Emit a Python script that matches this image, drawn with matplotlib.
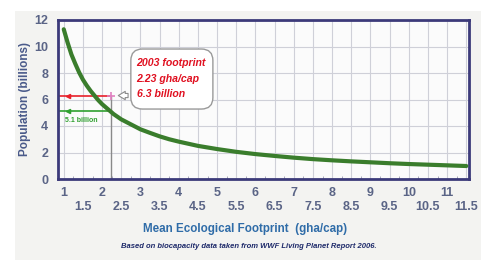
import matplotlib
matplotlib.use("Agg")
import matplotlib.pyplot as plt
from matplotlib.patches import Rectangle, FancyBboxPatch

plt.rcParams['font.family'] = ['Liberation Sans', 'DejaVu Sans']

# Data
footprint = [1, 1.1, 1.2, 1.3, 1.4, 1.5, 1.6, 1.7, 1.8, 1.9, 2, 2.1, 2.2, 2.3, 2.4,
             2.5, 2.6, 2.8, 3, 3.25, 3.5, 3.75, 4, 4.5, 5, 5.5, 6,
             6.5, 7, 7.5, 8, 8.5, 9, 9.5, 10, 10.5, 11, 11.5]
population = [11.3, 10.3, 9.4, 8.7, 8.05, 7.5, 7.05, 6.65, 6.3, 5.95, 5.65, 5.4,
              5.15, 4.9, 4.7, 4.5, 4.35, 4.05, 3.75, 3.48, 3.22, 3.0, 2.82, 2.5,
              2.26, 2.05, 1.88, 1.74, 1.61, 1.5, 1.41, 1.33, 1.26, 1.19, 1.13, 1.08,
              1.03, 0.98]
fp_2003 = 2.23
pop_2003 = 6.3
pop_sustain = 5.1
xtick_vals = [1, 1.5, 2, 2.5, 3, 3.5, 4, 4.5, 5, 5.5, 6, 6.5, 7, 7.5, 8, 8.5, 9,
              9.5, 10, 10.5, 11, 11.5]
ytick_vals = [0, 2, 4, 6, 8, 10, 12]
box_lines = ["2003 footprint", "2.23 gha/cap", "6.3 billion"]

W, H = 484, 262
fig = plt.figure(figsize=(W / 100, H / 100), dpi=100, facecolor='white')
fig.patches.append(Rectangle((15 / W, 2 / H), (481 - 15) / W, (251 - 2) / H,
                             transform=fig.transFigure, facecolor='#f3f3f1',
                             edgecolor='none', zorder=-10))

ax = fig.add_axes([58 / W, 1 - 179 / H, (469 - 58) / W, (179 - 20) / H])
ax.set_facecolor('#fbfbfb')
ax.set_xlim(0.85, 11.57)
ax.set_ylim(0, 12)

# grid
for xv in xtick_vals:
    ax.axvline(xv, color='#cfd0d8', lw=0.8, zorder=0)
for yv in ytick_vals[1:]:
    ax.axhline(yv, color='#cfd0d8', lw=0.8, zorder=0)

# vertical marker line at 2003 footprint
ax.plot([fp_2003, fp_2003], [0, pop_2003], color='#8a8a8a', lw=1.0, zorder=1)

# red & green horizontal lines
ax.plot([0.85, fp_2003], [pop_2003, pop_2003], color='#e8202a', lw=1.2, zorder=2)
ax.plot([1.12], [pop_2003], marker='<', ms=3, color='#e8202a', zorder=3)
ax.plot([0.85, fp_2003], [pop_sustain, pop_sustain], color='#30a030', lw=1.2, zorder=2)
ax.plot([1.12], [pop_sustain], marker='<', ms=3, color='#30a030', zorder=3)
ax.plot([fp_2003], [pop_2003], marker='+', ms=6, mew=1.2, color='#e080c0', zorder=4)

# curve
ax.plot(footprint, population, color='#3a7d2c', lw=3, solid_capstyle='round',
        solid_joinstyle='round', zorder=3)

ax.text(1.03, 4.45, "5.1 billion", color='#30a030', fontsize=5, fontweight='bold',
        va='center', ha='left')

# annotation box
box = FancyBboxPatch((2.75, 5.28), 2.14, 4.53,
                     boxstyle="round,pad=0,rounding_size=0.3",
                     mutation_aspect=2.9,
                     facecolor='white', edgecolor='#9a9a9a', lw=1.0, zorder=5)
ax.add_patch(box)
for s, yv in zip(box_lines, [8.75, 7.55, 6.4]):
    ax.text(2.9, yv, s, color='#e01020', fontsize=7.6, fontweight='bold',
            fontstyle='italic', va='center', ha='left', zorder=6)
ax.annotate("", xy=(fp_2003 + 0.12, pop_2003), xytext=(2.75, pop_2003),
            arrowprops=dict(arrowstyle='simple,head_length=0.5,head_width=0.6,tail_width=0.3',
                            fc='white', ec='#8a8a8a', lw=0.8), zorder=6)

# frame
for sp in ax.spines.values():
    sp.set_color('#3c3a7a')
    sp.set_linewidth(2)

ax.set_yticks(ytick_vals)
ax.set_yticklabels([str(v) for v in ytick_vals])
ax.set_xticks(xtick_vals)
ax.set_xticklabels([str(int(v)) if v == int(v) else "\n" + str(v) for v in xtick_vals])
ax.tick_params(axis='both', length=0, labelsize=9, labelcolor='#5a6486')
for lab in ax.get_xticklabels() + ax.get_yticklabels():
    lab.set_fontweight('bold')
ax.tick_params(axis='x', pad=6)
ax.tick_params(axis='y', pad=7)
ax.set_xticks([x + 0.25 for x in xtick_vals[:-1]], minor=True)
ax.tick_params(axis='x', which='minor', direction='in', length=2, color='#9a9ab0')

ax.set_ylabel("Population (billions)", fontsize=8.5, fontweight='bold', color='#4a5a8a',
              labelpad=2)

fig.text(245 / W, 1 - 229 / H, "Mean Ecological Footprint  (gha/cap)", fontsize=8.4,
         fontweight='bold', color='#2f6ca8', ha='center', va='center')
fig.text(249 / W, 1 - 246 / H,
         "Based on biocapacity data taken from WWF Living Planet Report 2006.",
         fontsize=5.5, fontweight='bold', fontstyle='italic', color='#1e2a6a',
         ha='center', va='center')

fig.savefig("out.png", dpi=100, facecolor='white')
